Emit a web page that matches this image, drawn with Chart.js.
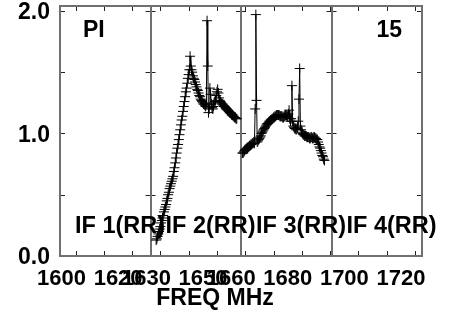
<!DOCTYPE html>
<html>
<head>
<meta charset="utf-8">
<script src="https://cdn.jsdelivr.net/npm/chart.js@4.4.0/dist/chart.umd.min.js"></script>
<style>
  html, body { margin: 0; padding: 0; background: #fff; }
</style>
</head>
<body>
<canvas id="myChart" width="456" height="311"></canvas>
<script>
'use strict';

// channel spacing of the spectrum (MHz)
let chanWidth = 0.25;

// IF 2 amplitudes, first channel at if2Start
let if2Start = 1628.5;
let if2Values = [
  0.13, 0.14, 0.16, 0.18, 0.20, 0.22, 0.24, 0.27, 0.29, 0.31,
  0.33, 0.36, 0.38, 0.40, 0.42, 0.45, 0.47, 0.50, 0.52, 0.55,
  0.57, 0.59, 0.61, 0.63, 0.65, 0.69, 0.72, 0.76, 0.80, 0.84,
  0.88, 0.91, 0.95, 0.99, 1.03, 1.07, 1.11, 1.14, 1.18, 1.22,
  1.26, 1.30, 1.34, 1.37, 1.41, 1.45, 1.48, 1.52, 1.63, 1.55,
  1.52, 1.50, 1.47, 1.45, 1.44, 1.42, 1.40, 1.38, 1.36, 1.35,
  1.33, 1.31, 1.30, 1.28, 1.27, 1.26, 1.25, 1.24, 1.24, 1.23,
  1.22, 1.24, 1.92, 1.55, 1.17, 1.20, 1.37, 1.32, 1.24, 1.21,
  1.20, 1.22, 1.25, 1.26, 1.27, 1.31, 1.34, 1.36, 1.33, 1.29,
  1.27, 1.26, 1.25, 1.24, 1.24, 1.23, 1.22, 1.22, 1.21, 1.20,
  1.20, 1.19, 1.19, 1.18, 1.17, 1.17, 1.16, 1.15, 1.15, 1.14,
  1.14, 1.13, 1.13, 1.12, 1.12
];

// IF 3 amplitudes
let if3Start = 1659.0;
let if3Values = [
  0.84, 0.84, 0.85, 0.86, 0.87, 0.87, 0.88, 0.88, 0.89, 0.89,
  0.90, 0.90, 0.91, 0.91, 0.92, 0.92, 0.93, 0.92, 1.20, 1.97,
  1.27, 0.93, 0.94, 0.95, 0.96, 0.97, 0.98, 1.00, 1.01, 1.02,
  1.03, 1.04, 1.05, 1.06, 1.07, 1.08, 1.08, 1.09, 1.10, 1.10,
  1.11, 1.11, 1.12, 1.12, 1.13, 1.13, 1.14, 1.14, 1.15, 1.15,
  1.15, 1.15, 1.15, 1.14, 1.14, 1.14, 1.14, 1.13, 1.13, 1.14,
  1.14, 1.15, 1.15, 1.14, 1.14, 1.16, 1.19, 1.12, 1.10, 1.12,
  1.39, 1.10, 1.06, 1.05, 1.04, 1.04, 1.03, 1.04, 1.05, 1.10,
  1.28, 1.53, 1.06, 1.03, 1.01, 1.00, 0.99, 0.99, 0.98, 0.98,
  0.98, 0.97, 0.97, 0.97, 0.97, 0.96, 0.96, 0.97, 0.97, 0.96,
  0.96, 0.97, 0.97, 0.96, 0.96, 0.95, 0.95, 0.93, 0.91, 0.89,
  0.88, 0.86, 0.84, 0.82, 0.81, 0.79, 0.78
];

// IF boundaries and labels
let ifEdges = [1594.5, 1626.5, 1658.5, 1690.5, 1722.5];
let ifLabels = ['IF 1(RR)', 'IF 2(RR)', 'IF 3(RR)', 'IF 4(RR)'];

// tick values and the ones that get a label
let xTicks = [1600, 1610, 1620, 1630, 1640, 1650, 1660, 1670, 1680, 1690, 1700, 1710, 1720];
let xTickLabels = [1600, 1620, 1630, 1650, 1660, 1680, 1700, 1720];
let yTicks = [0, 0.5, 1, 1.5, 2];
let yTickLabels = [0, 1, 2];

let fontFamily = '"Liberation Sans", Arial, Helvetica, sans-serif';

// helper: turn a start freq + values into points
function toPoints(start, values) {
  let pts = [];
  for (let i = 0; i < values.length; i++) {
    pts.push({ x: start + i * chanWidth, y: values[i] });
  }
  return pts;
}

// frame, IF separators, inward ticks and the extra texts
let panelPlugin = {
  id: 'panels',
  beforeDatasetsDraw(chart) {
    let c = chart.ctx;
    let xs = chart.scales.x;
    let ys = chart.scales.y;
    let a = chart.chartArea;
    c.save();

    c.strokeStyle = '#222';
    c.lineWidth = 1;
    // y ticks on every IF edge
    for (let k = 0; k < ifEdges.length; k++) {
      let px = xs.getPixelForValue(ifEdges[k]);
      for (let v of yTicks) {
        let py = Math.round(ys.getPixelForValue(v)) + 0.5;
        c.beginPath();
        c.moveTo(k === 0 ? px : px - 5, py);
        c.lineTo(k === ifEdges.length - 1 ? px : px + 5, py);
        c.stroke();
      }
    }
    // x ticks top and bottom
    for (let v of xTicks) {
      let px = Math.round(xs.getPixelForValue(v)) + 0.5;
      c.beginPath();
      c.moveTo(px, a.bottom);
      c.lineTo(px, a.bottom - 5);
      c.moveTo(px, a.top);
      c.lineTo(px, a.top + 5);
      c.stroke();
    }

    c.strokeStyle = '#707070';
    c.lineWidth = 2;
    c.strokeRect(a.left, a.top, a.right - a.left, a.bottom - a.top);
    for (let k = 1; k < ifEdges.length - 1; k++) {
      let px = Math.round(xs.getPixelForValue(ifEdges[k]));
      c.beginPath();
      c.moveTo(px, a.top);
      c.lineTo(px, a.bottom);
      c.stroke();
    }
    c.restore();
  },
  afterDraw(chart) {
    let c = chart.ctx;
    let xs = chart.scales.x;
    c.save();
    c.fillStyle = '#000';
    c.textBaseline = 'middle';

    c.font = 'bold 23.5px ' + fontFamily;
    c.textAlign = 'left';
    for (let k = 0; k < ifLabels.length; k++) {
      c.fillText(ifLabels[k], xs.getPixelForValue(ifEdges[k]) + 15, 227);
    }

    c.font = 'bold 23px ' + fontFamily;
    c.fillText('PI', 83, 31);
    c.textAlign = 'right';
    c.fillText('15', 402, 31);

    c.textAlign = 'center';
    c.fillText('FREQ MHz', 215, 299);
    c.restore();
  }
};

let ctx = document.getElementById('myChart');

let datasetStyle = {
  borderColor: '#000',
  borderWidth: 1,
  pointStyle: 'cross',
  pointRadius: 5,
  pointBorderWidth: 1,
  pointBorderColor: '#000',
  tension: 0,
  fill: false
};

new Chart(ctx, {
  type: 'line',
  data: {
    datasets: [
      Object.assign({ label: 'IF 2', data: toPoints(if2Start, if2Values) }, datasetStyle),
      Object.assign({ label: 'IF 3', data: toPoints(if3Start, if3Values) }, datasetStyle)
    ]
  },
  options: {
    responsive: false,
    animation: false,
    devicePixelRatio: 1,
    layout: { padding: { left: 0, right: 34, top: 5, bottom: 0 } },
    plugins: {
      legend: { display: false },
      tooltip: { enabled: false }
    },
    scales: {
      x: {
        type: 'linear',
        min: ifEdges[0],
        max: ifEdges[ifEdges.length - 1],
        afterBuildTicks: (s) => { s.ticks = xTicks.map(v => ({ value: v })); },
        afterFit: (s) => { s.height = 55; s.paddingLeft = 0; s.paddingRight = 0; },
        grid: { display: false, drawTicks: false },
        border: { display: false },
        ticks: {
          autoSkip: false,
          maxRotation: 0,
          minRotation: 0,
          labelOffset: -14,
          padding: 10,
          color: '#000',
          font: { family: fontFamily, size: 22, weight: 'bold' },
          callback: (v) => xTickLabels.includes(v) ? String(v) : ''
        }
      },
      y: {
        min: 0,
        max: 2.04,
        afterBuildTicks: (s) => { s.ticks = yTicks.map(v => ({ value: v })); },
        afterFit: (s) => { s.width = 60; s.paddingTop = 0; s.paddingBottom = 0; },
        grid: { display: false, drawTicks: false },
        border: { display: false },
        ticks: {
          padding: 10,
          labelOffset: 2,
          color: '#000',
          font: { family: fontFamily, size: 23, weight: 'bold' },
          callback: (v) => yTickLabels.includes(v) ? v.toFixed(1) : ''
        }
      }
    }
  },
  plugins: [panelPlugin]
});
</script>
</body>
</html>
